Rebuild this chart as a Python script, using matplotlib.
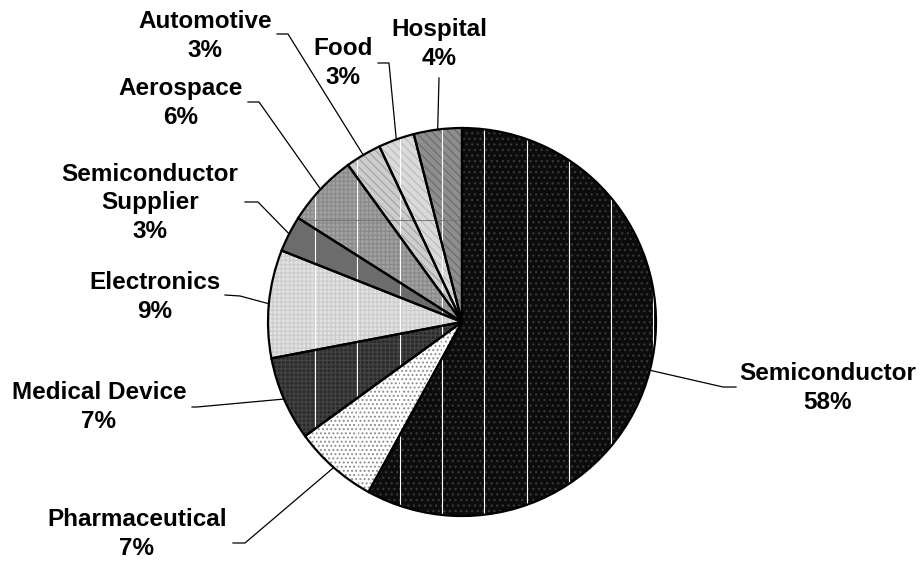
import numpy as np
import matplotlib
matplotlib.use('Agg')
import matplotlib.pyplot as plt
from matplotlib.patches import Circle

# Datos del gráfico (porcentaje por sector)
sectores = ['Semiconductor', 'Pharmaceutical', 'Medical Device', 'Electronics',
            'Semiconductor\nSupplier', 'Aerospace', 'Automotive', 'Food', 'Hospital']
porcentajes = [58, 7, 7, 9, 3, 6, 3, 3, 4]

# Estilo de relleno de cada porción (gris + trama, como el original en blanco y negro)
colores = ['#0c0c0c', '#ffffff', '#2b2b2b', '#e2e2e2', '#6c6c6c',
           '#a2a2a2', '#cdcdcd', '#dadada', '#8e8e8e']
tramas = ['...', '....', '++++', '++++', '', '++++', '\\\\\\\\', '\\\\\\\\', '\\\\\\\\']
colores_trama = ['#383838', '#8c8c8c', '#444444', '#cccccc', '#6c6c6c',
                 '#8a8a8a', '#a6a6a6', '#bdbdbd', '#6e6e6e']

# Posición de las etiquetas y de los codos de las líneas guía (en píxeles)
pos_etiquetas = [(828, 388), (137, 534), (99, 407), (155, 297), (150, 203),
                 (181, 103), (205, 36), (343, 63), (439, 44)]
codos = [(723, 387), (245, 543), (197, 407), (240, 296), (258, 202),
         (259, 102), (288, 34), (389, 63), (439, 78)]
finales = [(736, 387), (233, 543), (192, 407), (225, 295), (245, 202),
           (248, 102), (277, 34), (378, 63), (439, 78)]

W, H = 923, 563
cx, cy, r = 462, H - 322, 194

fig = plt.figure(figsize=(W / 100, H / 100), dpi=100)
ax = fig.add_axes([0, 0, 1, 1])
ax.axis('off')

plt.rcParams['hatch.linewidth'] = 0.9

# Capa 1: relleno gris
base, _ = ax.pie(porcentajes, startangle=90, counterclock=False, center=(cx, cy),
                 radius=r, colors=colores, wedgeprops=dict(linewidth=0))

# Capa 2: tramas
capa, _ = ax.pie(porcentajes, startangle=90, counterclock=False, center=(cx, cy),
                 radius=r, colors=['none'] * len(porcentajes), wedgeprops=dict(linewidth=0))
for w, t, c in zip(capa, tramas, colores_trama):
    w.set_hatch(t)
    w.set_edgecolor(c)
    w.set_facecolor('none')

# Líneas blancas verticales y línea gris horizontal dentro del círculo (artefactos del original)
clip = Circle((cx, cy), r, transform=ax.transData)
for x in np.arange(315, cx + r, 42.3):
    ln = ax.axvline(x, color='white', linewidth=0.8, zorder=3)
    ln.set_clip_path(clip)
ln = ax.plot([cx - r, cx], [H - 220, H - 220], color='#777777', linewidth=0.7, zorder=3)[0]
ln.set_clip_path(clip)

# Capa 3: bordes negros
borde, _ = ax.pie(porcentajes, startangle=90, counterclock=False, center=(cx, cy),
                  radius=r, colors=['none'] * len(porcentajes),
                  wedgeprops=dict(edgecolor='black', linewidth=1.6))
for w in borde:
    w.set_zorder(4)

# Etiquetas y líneas guía
for w, nombre, p, pe, cd, fn in zip(base, sectores, porcentajes, pos_etiquetas, codos, finales):
    ang = np.deg2rad((w.theta1 + w.theta2) / 2)
    ex, ey = cx + r * np.cos(ang), cy + r * np.sin(ang)
    ax.plot([ex, cd[0], fn[0]], [ey, H - cd[1], H - fn[1]], color='black', linewidth=0.9, zorder=5)
    ax.text(pe[0], H - pe[1], f'{nombre}\n{p}%', ha='center', va='center',
            multialignment='center', fontsize=17.5, fontweight='bold',
            family='Liberation Sans', linespacing=1.33)

ax.set_xlim(0, W)
ax.set_ylim(0, H)
ax.set_aspect('equal')
fig.savefig('out.png', dpi=100)
